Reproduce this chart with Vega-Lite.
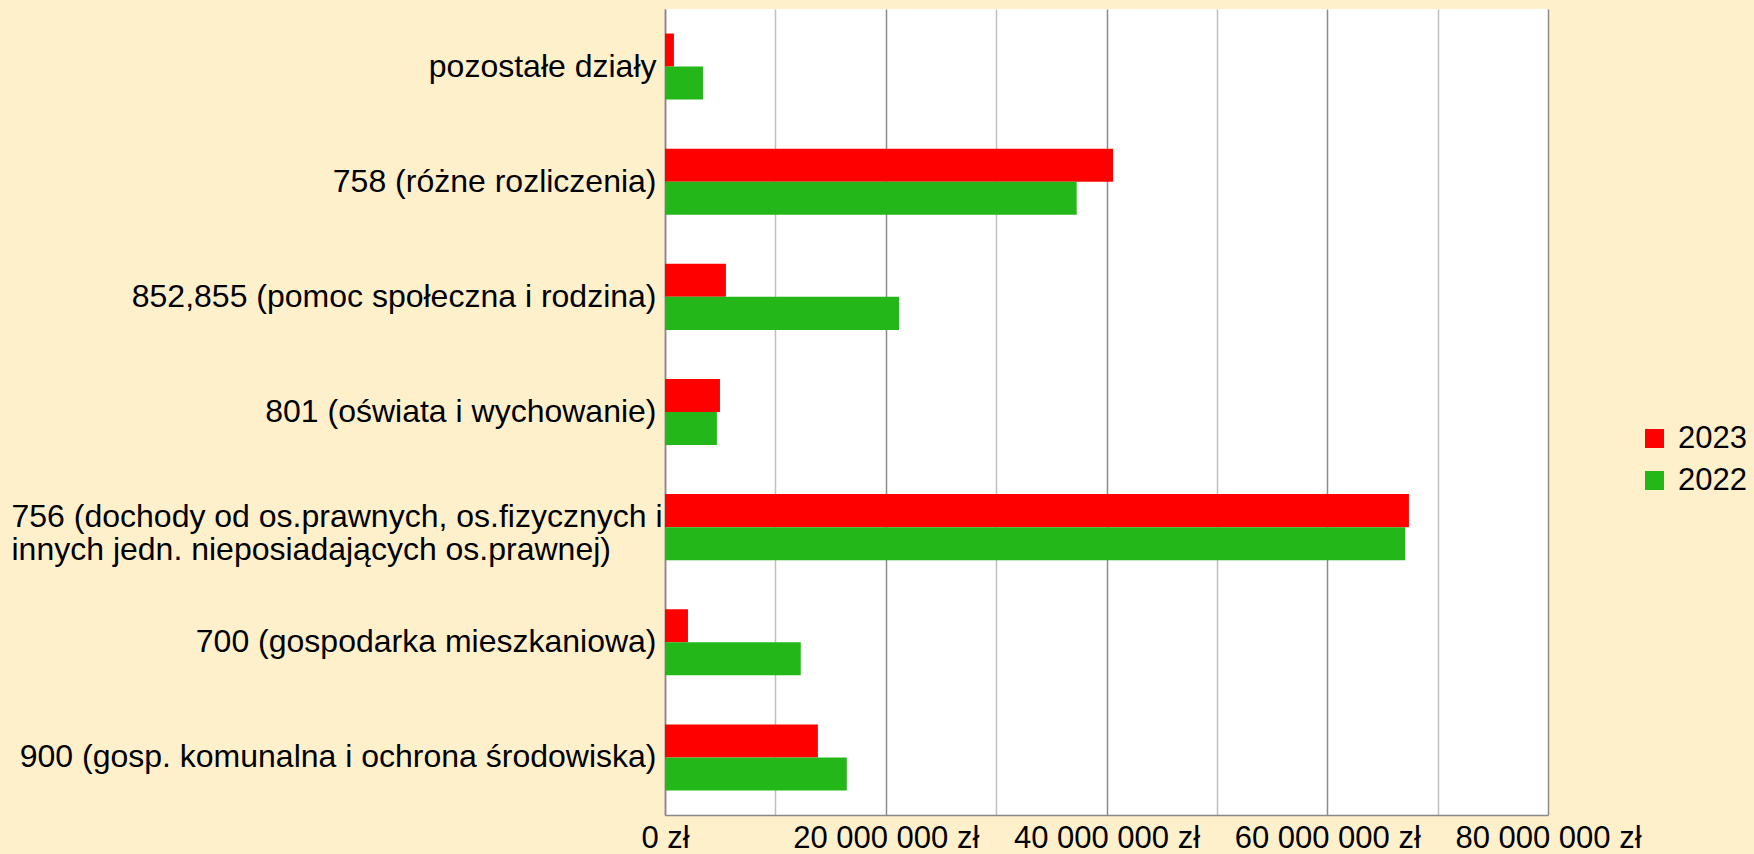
{
  "$schema": "https://vega.github.io/schema/vega-lite/v6.json",
  "width": 883,
  "height": 806,
  "autosize": {"type": "none"},
  "padding": {"left": 665, "top": 9, "right": 206, "bottom": 39},
  "background": "#FFF0CC",
  "config": {"view": {"fill": "white", "stroke": null}, "font": "Liberation Sans"},
  "data": {
    "values": [
      {"dzial": "pozostałe działy", "rok": "2023", "kwota": 810000},
      {"dzial": "pozostałe działy", "rok": "2022", "kwota": 3440000},
      {"dzial": "758 (różne rozliczenia)", "rok": "2023", "kwota": 40600000},
      {"dzial": "758 (różne rozliczenia)", "rok": "2022", "kwota": 37300000},
      {"dzial": "852,855 (pomoc społeczna i rodzina)", "rok": "2023", "kwota": 5520000},
      {"dzial": "852,855 (pomoc społeczna i rodzina)", "rok": "2022", "kwota": 21200000},
      {"dzial": "801 (oświata i wychowanie)", "rok": "2023", "kwota": 4980000},
      {"dzial": "801 (oświata i wychowanie)", "rok": "2022", "kwota": 4700000},
      {"dzial": "756 (dochody od os.prawnych, os.fizycznych i|innych jedn. nieposiadających os.prawnej)", "rok": "2023", "kwota": 67400000},
      {"dzial": "756 (dochody od os.prawnych, os.fizycznych i|innych jedn. nieposiadających os.prawnej)", "rok": "2022", "kwota": 67060000},
      {"dzial": "700 (gospodarka mieszkaniowa)", "rok": "2023", "kwota": 2080000},
      {"dzial": "700 (gospodarka mieszkaniowa)", "rok": "2022", "kwota": 12300000},
      {"dzial": "900 (gosp. komunalna i ochrona środowiska)", "rok": "2023", "kwota": 13850000},
      {"dzial": "900 (gosp. komunalna i ochrona środowiska)", "rok": "2022", "kwota": 16470000}
    ]
  },
  "mark": {"type": "bar"},
  "encoding": {
    "y": {
      "field": "dzial",
      "type": "nominal",
      "sort": null,
      "scale": {"paddingInner": 0.426, "paddingOuter": 0.213},
      "axis": {
        "title": null,
        "ticks": false,
        "grid": false,
        "labelExpr": "split(datum.value, '|')",
        "labelFontSize": 32,
        "labelLineHeight": 33,
        "labelColor": "black",
        "labelLimit": 0,
        "labelAlign": {"condition": {"test": "indexof(datum.value, '|') >= 0", "value": "left"}, "value": "right"},
        "labelPadding": {"condition": {"test": "indexof(datum.value, '|') >= 0", "value": 654}, "value": 9},
        "labelOffset": {"condition": {"test": "indexof(datum.value, '|') >= 0", "value": -10}, "value": 0},
        "domainColor": "#888888",
        "domainWidth": 1.5
      }
    },
    "yOffset": {"field": "rok", "type": "nominal", "sort": ["2023", "2022"]},
    "x": {
      "field": "kwota",
      "type": "quantitative",
      "scale": {"domain": [0, 80000000], "nice": false},
      "axis": {
        "title": null,
        "values": [0, 10000000, 20000000, 30000000, 40000000, 50000000, 60000000, 70000000, 80000000],
        "grid": true,
        "gridColor": {"condition": {"test": "datum.value % 20000000 === 0", "value": "#8C8C8C"}, "value": "#C0C0C0"},
        "gridWidth": 1.5,
        "ticks": false,
        "labelExpr": "datum.value % 20000000 === 0 ? replace(format(datum.value, ','), regexp(',', 'g'), ' ') + ' zł' : ''",
        "labelFontSize": 31,
        "labelColor": "black",
        "labelPadding": 8,
        "labelLimit": 0,
        "labelFlush": false,
        "labelOverlap": false,
        "domainColor": "#888888",
        "domainWidth": 1.5
      }
    },
    "color": {
      "field": "rok",
      "type": "nominal",
      "scale": {"domain": ["2023", "2022"], "range": ["#FF0000", "#23B71A"]},
      "legend": {
        "title": null,
        "orient": "none",
        "legendX": 974,
        "legendY": 414,
        "padding": 0,
        "symbolType": "square",
        "symbolSize": 361,
        "symbolStrokeWidth": 0,
        "labelFontSize": 31,
        "labelColor": "black",
        "labelOffset": 8,
        "rowPadding": 10
      }
    }
  }
}
